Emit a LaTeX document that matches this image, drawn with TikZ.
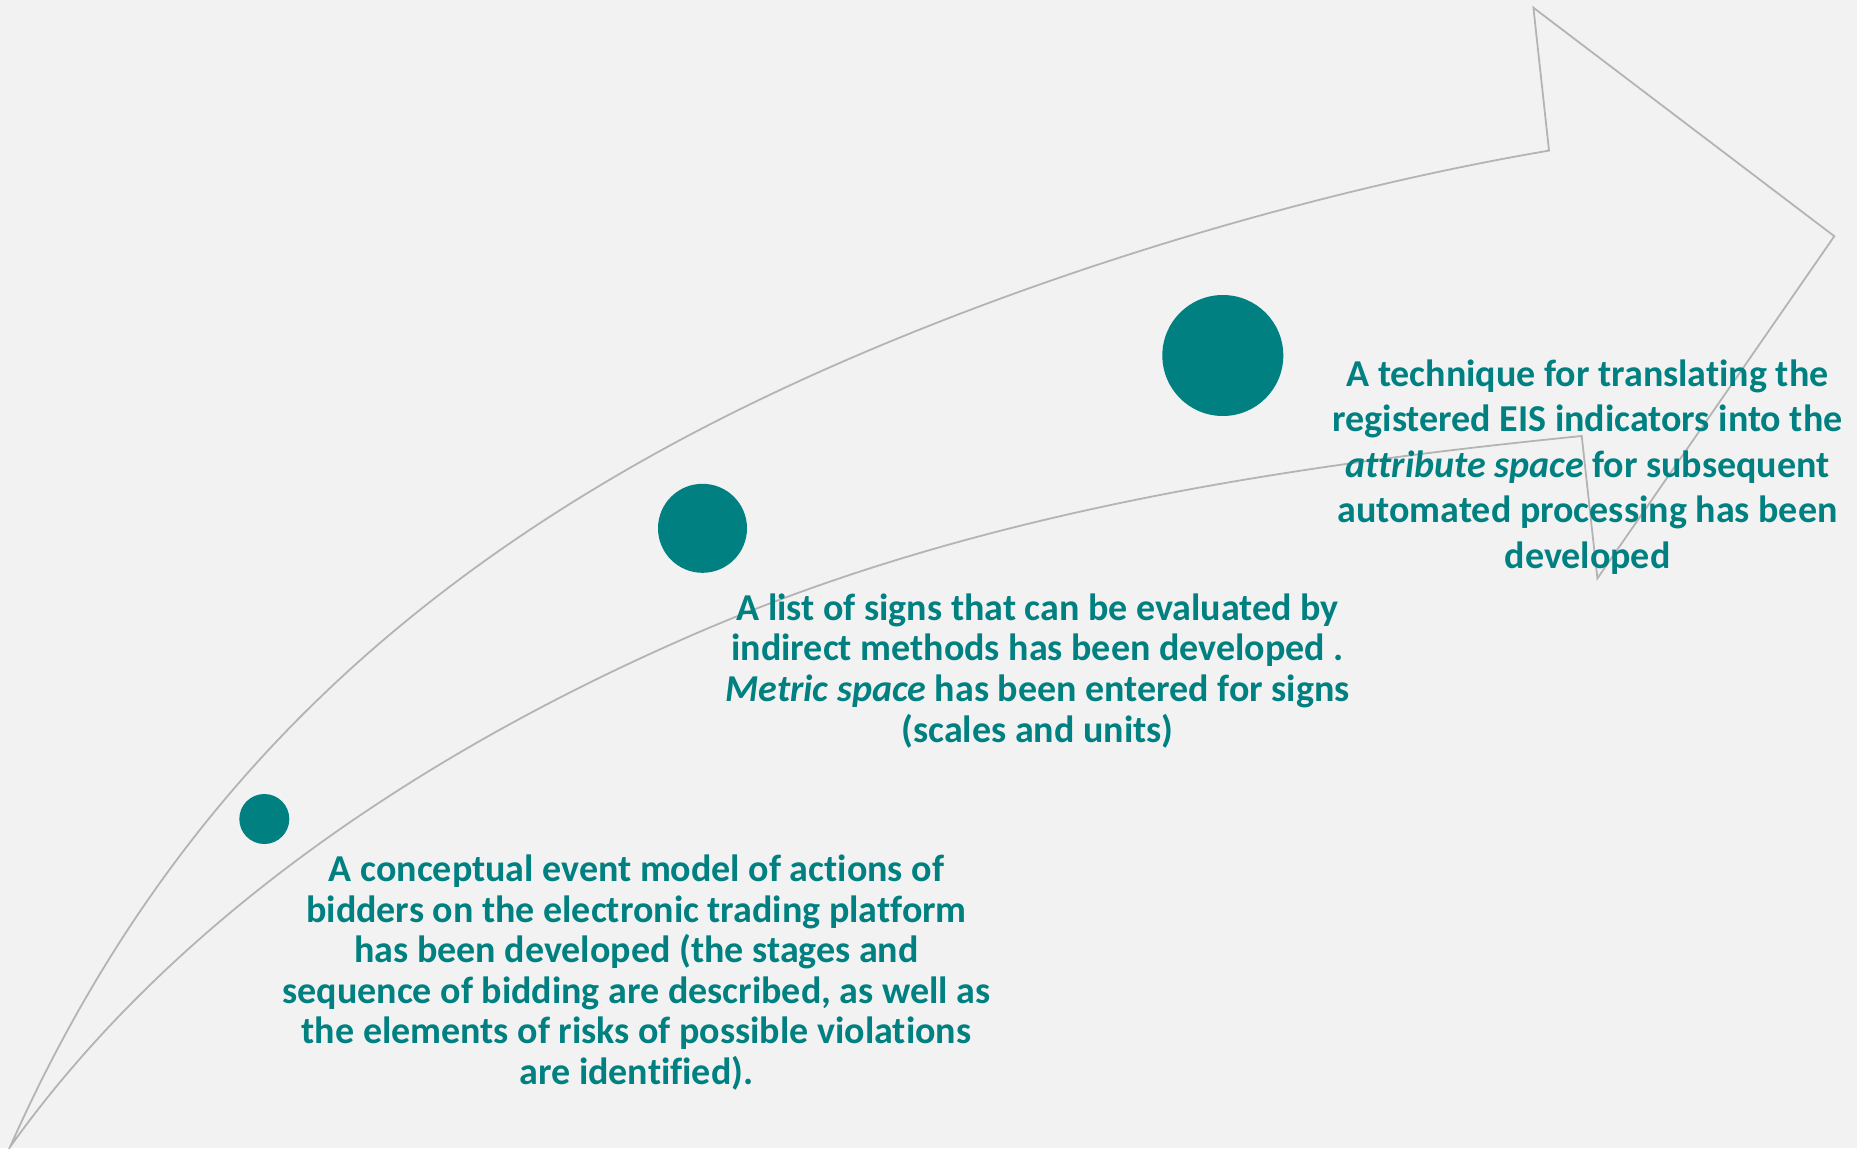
\documentclass[tikz,border=0pt]{standalone}
\usepackage{fontspec}
\setmainfont{Carlito}[Ligatures=NoCommon]
\definecolor{bgcol}{RGB}{242,242,242}
\definecolor{tealc}{RGB}{0,128,128}
\definecolor{linec}{RGB}{180,180,180}
\begin{document}
\begin{tikzpicture}[x=1pt,y=-1pt,
  outline/.style={draw=linec,line width=1.8pt,line join=miter},
  dot/.style={circle,fill=tealc,draw=none,inner sep=0pt,minimum size=#1},
  txt/.style={text=tealc,font=\fontsize{38}{40.5}\selectfont\bfseries,anchor=base,inner sep=0pt}]
\fill[bgcol] (0,0) rectangle (1857,1148);
\useasboundingbox (0,0) rectangle (1857,1148);
% arrow outline
\coordinate (tail) at (10,1147);
\coordinate (omid) at (661.7,450);
\coordinate (nup) at (1549,150.6);
\coordinate (top) at (1533.4,7.7);
\coordinate (tip) at (1834.3,236.2);
\coordinate (bot) at (1597.4,578.4);
\coordinate (nlo) at (1581.7,436);
\coordinate (imid) at (700,631.7);
\draw[outline] (tail) .. controls (149.7,832.6) and (360.4,615.8) .. (omid)
  .. controls (915.7,310.2) and (1263.1,199.3) .. (nup)
  -- (top) -- (tip) -- (bot) -- (nlo)
  .. controls (1282.2,466.0) and (976.6,512.8) .. (imid)
  .. controls (436.2,745.1) and (176.7,913.4) .. (tail) -- cycle;
% circles
\node[dot=50pt] (c1) at (264.3,819) {};
\node[dot=89pt] (c2) at (702.5,528.3) {};
\node[dot=121pt] (c3) at (1222.8,355.5) {};
% block 1
\node[txt] (a1) at (636.5,881.7) {A conceptual event model of actions of};
\node[txt] (a2) at (636.5,922.2) {bidders on the electronic trading platform};
\node[txt] (a3) at (636.5,962.7) {has been developed (the stages and};
\node[txt] (a4) at (636.5,1003.2) {sequence of bidding are described, as well as};
\node[txt] (a5) at (636.5,1043.7) {the elements of risks of possible violations};
\node[txt] (a6) at (636.5,1084.2) {are identified).};
% block 2
\node[txt] (b1) at (1037.5,620) {A list of signs that can be evaluated by};
\node[txt] (b2) at (1037.5,660.7) {indirect methods has been developed .};
\node[txt] (b3) at (1037.5,701.4) {\textit{Metric space} has been entered for signs};
\node[txt] (b4) at (1037.5,742.1) {(scales and units)};
% block 3
\node[txt] (d1) at (1587.5,386) {A technique for translating the};
\node[txt] (d2) at (1587.5,431.5) {registered EIS indicators into the};
\node[txt] (d3) at (1587.5,477) {\textit{attribute space} for subsequent};
\node[txt] (d4) at (1587.5,522.5) {automated processing has been};
\node[txt] (d5) at (1587.5,568) {developed};
\end{tikzpicture}
\end{document}
